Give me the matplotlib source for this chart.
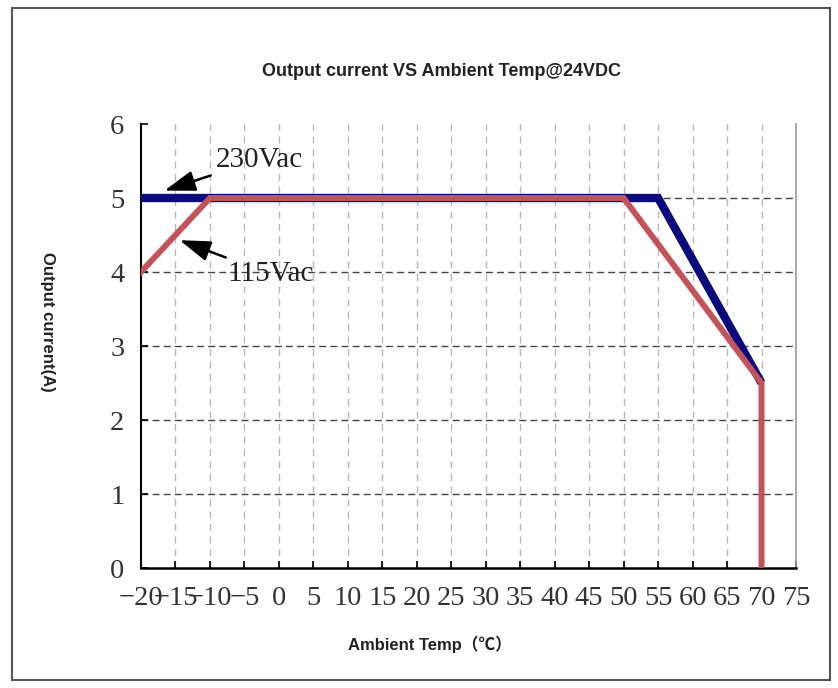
import matplotlib
matplotlib.use("Agg")
import matplotlib.pyplot as plt
from matplotlib.patches import Rectangle

# Data
temp_230 = [-20, 55, 70]
curr_230 = [5, 5, 2.5]
temp_115 = [-20, -10, 50, 70, 70]
curr_115 = [4, 5, 5, 2.5, 0]
x_ticks = list(range(-20, 80, 5))
y_ticks = [0, 1, 2, 3, 4, 5, 6]

fig = plt.figure(figsize=(8.38, 6.88), dpi=100)
ax = fig.add_axes([141/838, 1-568/688, (796-141)/838, (568-124)/688])

ax.plot(temp_230, curr_230, color="#0b0b7e", lw=6.0, solid_joinstyle="miter", solid_capstyle="butt", zorder=3)
ax.plot(temp_115, curr_115, color="#c4525a", lw=4.3, solid_joinstyle="miter", zorder=4)

ax.set_xlim(-20, 75)
ax.set_ylim(0, 6)
ax.set_xticks(x_ticks)
ax.set_yticks(y_ticks)
ax.set_xticklabels([str(t).replace("-", "\u2212") for t in x_ticks], family="Liberation Serif", fontsize=20.5, color="#333333")
ax.set_yticklabels([str(t) for t in y_ticks], family="Liberation Serif", fontsize=20.5, color="#333333")
ax.tick_params(axis="x", direction="in", length=5, width=1.2, pad=13)
ax.tick_params(axis="y", direction="in", length=5, width=1.2, pad=12)

for v in x_ticks[1:-1]:
    ax.axvline(v, color="#b8b8b8", lw=1.0, ls=(0, (5, 4)), zorder=1)
for v in y_ticks[1:-1]:
    ax.axhline(v, color="#444444", lw=1.0, ls=(0, (5, 3)), zorder=1)

ax.spines["top"].set_visible(False)
ax.spines["right"].set_color("#999999")
ax.spines["right"].set_linewidth(1.2)
ax.spines["left"].set_linewidth(1.5)
ax.spines["bottom"].set_linewidth(1.8)

# Annotations
ax.annotate("230Vac", xy=(-16.6, 5.1), xytext=(-9.1, 5.52),
            family="Liberation Serif", fontsize=21, color="#222222", va="center", ha="left",
            arrowprops=dict(arrowstyle="-|>,head_length=0.9,head_width=0.3", color="black", lw=1.8,
                            shrinkA=2, shrinkB=0), zorder=6)
ax.annotate("115Vac", xy=(-14.4, 4.43), xytext=(-7.5, 3.97),
            family="Liberation Serif", fontsize=21, color="#222222", va="center", ha="left",
            arrowprops=dict(arrowstyle="-|>,head_length=0.9,head_width=0.3", color="black", lw=1.8,
                            shrinkA=2, shrinkB=0), zorder=6)

fig.text(442/838, 1-72/688, "Output current VS Ambient Temp@24VDC", ha="center", va="center",
         family=["Liberation Sans", "DejaVu Sans"], fontweight="bold", fontsize=13, color="#222222")
fig.text(47/838, 1-322/688, "Output current(A)", ha="center", va="center", rotation=-90,
         family=["Liberation Sans", "DejaVu Sans"], fontweight="bold", fontsize=12, color="#222222")
fig.text(430/838, 1-644/688, "Ambient Temp（℃）", ha="center", va="center",
         family=["Liberation Sans", "Noto Sans CJK SC", "DejaVu Sans"], fontweight="bold", fontsize=12, color="#222222")

fig.patches.append(Rectangle((12/838, 8/688), (830-12)/838, (680-8)/688, transform=fig.transFigure,
                             fill=False, edgecolor="#555555", lw=1.5))

fig.savefig("out.png", dpi=100)
